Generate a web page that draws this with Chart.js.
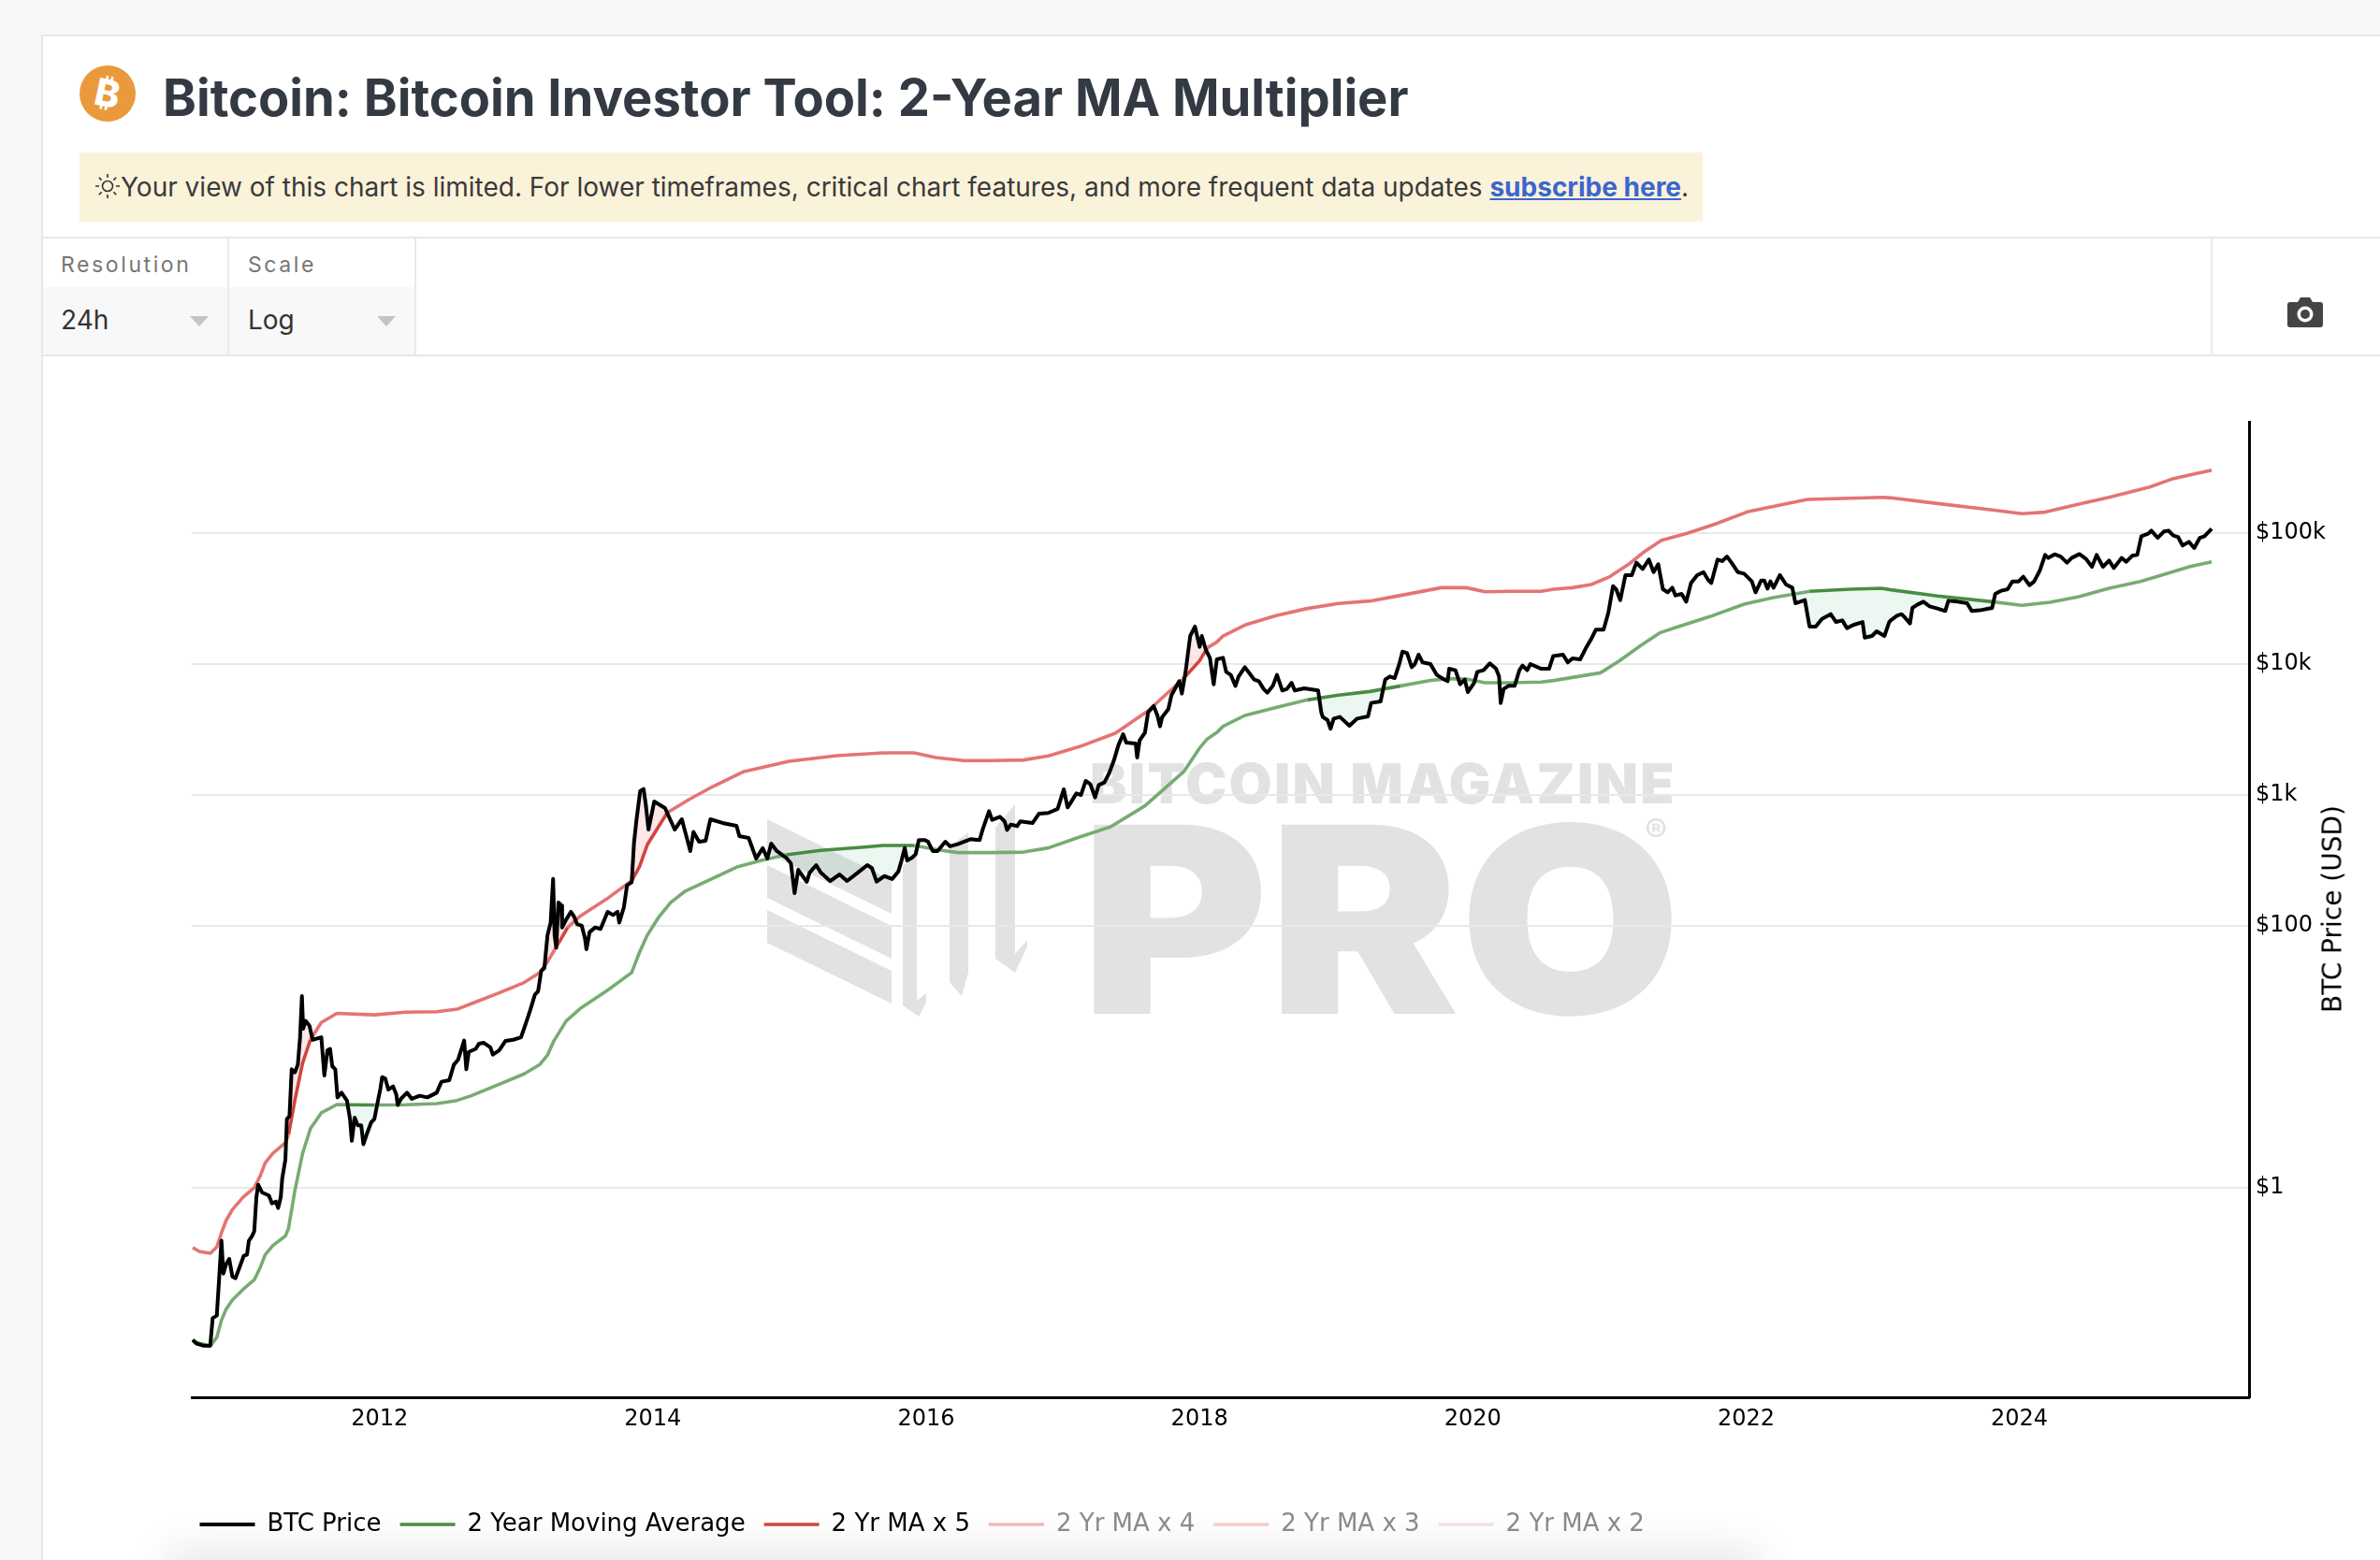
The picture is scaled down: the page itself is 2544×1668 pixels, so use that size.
<!DOCTYPE html>
<html>
<head>
<meta charset="utf-8">
<title>Bitcoin Investor Tool: 2-Year MA Multiplier</title>
<script src="https://cdn.jsdelivr.net/npm/chart.js@4"></script>
<style>
  html, body { margin: 0; padding: 0; width: 2544px; height: 1668px; overflow: hidden; background: #f7f8fa; font-family: Inter, sans-serif; }
  #card { position: absolute; left: 44px; top: 37px; width: 2600px; height: 1700px; background: #fff; border: 2px solid #e6e7e9; box-sizing: border-box; }
  .abs { position: absolute; white-space: nowrap; }
  #logo { left: 85px; top: 70px; width: 60px; height: 60px; }
  #title { left: 174px; top: 70px; font-size: 54.3px; line-height: 68px; font-weight: 700; color: #343a43; }
  #alert { left: 85px; top: 163px; width: 1735px; height: 74px; background: #fbf2da; }
  #alertText { left: 129px; top: 183px; font-size: 28px; line-height: 34px; color: #3a3a3a; }
  #alertText a { color: #3a66cf; font-weight: 700; text-decoration: underline; }
  #sun { left: 100px; top: 184px; width: 30px; height: 30px; }
  .hr { position: absolute; left: 44px; width: 2500px; height: 2px; background: #e6e7e9; }
  .vr { position: absolute; top: 253px; width: 2px; height: 127px; background: #e9eaec; }
  .ctlBg { position: absolute; top: 307px; height: 72px; background: #f8f8f8; }
  .ctlLabel { font-size: 23px; letter-spacing: 2.6px; color: #777; top: 269px; line-height: 28px; }
  .ctlValue { font-size: 28px; color: #333; top: 324px; line-height: 36px; }
  .arrow { position: absolute; top: 338px; width: 0; height: 0; border-left: 10px solid transparent; border-right: 10px solid transparent; border-top: 11px solid #c4c4c4; }
  #cam { left: 2445px; top: 317px; width: 38px; height: 36px; }
  #wmTop { left: 1165px; top: 803px; font-size: 59px; line-height: 70px; font-weight: 900; color: #e2e2e2; letter-spacing: 2.4px; }
  #wmPro { left: 1155px; top: 823px; font-size: 278px; line-height: 320px; font-weight: 900; color: #e2e2e2; transform: scaleX(1.1); transform-origin: left top; }
  #wmReg { left: 1758px; top: 866px; font-size: 36px; color: #e2e2e2; }
  #wmIcon { left: 815px; top: 850px; width: 300px; height: 250px; }
  #yTitle { left: 2493px; top: 972px; font-family: "DejaVu Sans"; font-size: 28px; color: #000; transform: translate(-50%, -50%) rotate(-90deg); }
  #fade { left: 190px; top: 1668px; width: 1680px; height: 60px; box-shadow: 0 0 46px 10px rgba(0,0,0,0.10); }
  #chart { position: absolute; left: 0; top: 0; }
</style>
</head>
<body>
<div id="card"></div>

<svg id="logo" class="abs" viewBox="0 0 60 60">
  <circle cx="30" cy="30" r="30" fill="#ea9a3c"/>
  <text x="30" y="44" text-anchor="middle" font-family="Inter" font-weight="800" font-size="40" fill="#fff" transform="rotate(12 30 30)">₿</text>
</svg>
<div id="title" class="abs">Bitcoin: Bitcoin Investor Tool: 2-Year MA Multiplier</div>
<div id="alert" class="abs"></div>
<svg id="sun" class="abs" viewBox="0 0 30 30" fill="none" stroke="#333" stroke-width="1.6">
  <circle cx="15" cy="15" r="5.5"/>
  <path d="M15 2v4M15 24v4M2 15h4M24 15h4M5.8 5.8l2.8 2.8M21.4 21.4l2.8 2.8M5.8 24.2l2.8-2.8M21.4 8.6l2.8-2.8"/>
</svg>
<div id="alertText" class="abs">Your view of this chart is limited. For lower timeframes, critical chart features, and more frequent data updates <a>subscribe here</a>.</div>

<div class="hr" style="top:253px"></div>
<div class="hr" style="top:379px"></div>
<div class="ctlBg" style="left:46px;width:197px"></div>
<div class="ctlBg" style="left:245px;width:198px"></div>
<div class="vr" style="left:243px"></div>
<div class="vr" style="left:443px"></div>
<div class="vr" style="left:2363px"></div>
<div class="abs ctlLabel" style="left:65px">Resolution</div>
<div class="abs ctlLabel" style="left:265px">Scale</div>
<div class="abs ctlValue" style="left:65px">24h</div>
<div class="abs ctlValue" style="left:265px">Log</div>
<div class="arrow" style="left:203px"></div>
<div class="arrow" style="left:403px"></div>
<svg id="cam" class="abs" viewBox="0 0 38 36">
  <path fill="#444" d="M3 6h8l3-5h10l3 5h8a3 3 0 0 1 3 3v21a3 3 0 0 1-3 3H3a3 3 0 0 1-3-3V9a3 3 0 0 1 3-3z"/>
  <circle cx="19" cy="19" r="8.5" fill="#fff"/><circle cx="19" cy="19" r="5" fill="#444"/>
</svg>

<!-- watermark sits under the transparent canvas -->
<svg id="wmIcon" class="abs" viewBox="815 850 300 250" fill="#e2e2e2">
  <polygon points="820,876 953,941 953,977 820,912"/>
  <polygon points="820,925 953,990 953,1025 820,960"/>
  <polygon points="820,973 953,1038 953,1073 820,1008"/>
  <polygon points="965,925 980,915 980,1070 990,1062 990,1072 982,1087 965,1075"/>
  <polygon points="1015,905 1035,890 1035,1040 1028,1065 1015,1050"/>
  <polygon points="1064,885 1085,860 1085,1020 1098,1005 1098,1012 1085,1040 1064,1025"/>
</svg>
<div id="wmTop" class="abs">BITCOIN MAGAZINE</div>
<div id="wmPro" class="abs">PRO</div>
<div id="wmReg" class="abs">®</div>
<div id="fade" class="abs"></div>

<canvas id="chart" width="2544" height="1668"></canvas>
<div id="yTitle" class="abs">BTC Price (USD)</div>

<script>
const xTickYears = [2012, 2014, 2016, 2018, 2020, 2022, 2024];
const yTickValues = [1, 100, 1000, 10000, 100000];
const yTickLabels = ["$1", "$100", "$1k", "$10k", "$100k"];

const priceYears = [
  2010.633, 2010.660, 2010.706, 2010.761, 2010.779, 2010.809, 2010.825, 2010.843, 2010.857, 2010.877, 2010.900, 2010.923, 2010.946, 2010.980,
  2011.007, 2011.030, 2011.044, 2011.067, 2011.083, 2011.099, 2011.112, 2011.140, 2011.190, 2011.213, 2011.242, 2011.258, 2011.277, 2011.288,
  2011.311, 2011.322, 2011.341, 2011.357, 2011.380, 2011.402, 2011.418, 2011.432, 2011.441, 2011.459, 2011.487, 2011.510, 2011.574, 2011.596,
  2011.619, 2011.638, 2011.654, 2011.676, 2011.692, 2011.722, 2011.761, 2011.784, 2011.797, 2011.818, 2011.841, 2011.866, 2011.882, 2011.905,
  2011.939, 2011.962, 2011.984, 2012.007, 2012.019, 2012.042, 2012.064, 2012.099, 2012.122, 2012.133, 2012.156, 2012.201, 2012.236, 2012.293,
  2012.350, 2012.418, 2012.453, 2012.510, 2012.544, 2012.574, 2012.619, 2012.635, 2012.653, 2012.704, 2012.727, 2012.761, 2012.811, 2012.829,
  2012.875, 2012.921, 2012.978, 2013.035, 2013.069, 2013.103, 2013.137, 2013.160, 2013.183, 2013.206, 2013.229, 2013.252, 2013.270, 2013.281,
  2013.293, 2013.309, 2013.332, 2013.336, 2013.366, 2013.400, 2013.423, 2013.446, 2013.480, 2013.503, 2013.514, 2013.537, 2013.578, 2013.617,
  2013.669, 2013.708, 2013.742, 2013.754, 2013.788, 2013.811, 2013.845, 2013.862, 2013.879, 2013.907, 2013.932, 2013.948, 2013.968, 2014.010,
  2014.089, 2014.160, 2014.212, 2014.274, 2014.297, 2014.338, 2014.386, 2014.421, 2014.510, 2014.612, 2014.633, 2014.701, 2014.756, 2014.804,
  2014.838, 2014.866, 2014.907, 2014.975, 2015.010, 2015.037, 2015.064, 2015.126, 2015.147, 2015.195, 2015.229, 2015.297, 2015.366, 2015.421,
  2015.510, 2015.569, 2015.603, 2015.637, 2015.694, 2015.752, 2015.797, 2015.820, 2015.843, 2015.861, 2015.900, 2015.923, 2015.946, 2015.991,
  2016.014, 2016.048, 2016.083, 2016.140, 2016.174, 2016.231, 2016.323, 2016.391, 2016.414, 2016.460, 2016.482, 2016.540, 2016.574, 2016.592,
  2016.619, 2016.665, 2016.688, 2016.779, 2016.825, 2016.893, 2016.962, 2017.007, 2017.035, 2017.057, 2017.099, 2017.133, 2017.167, 2017.201,
  2017.236, 2017.263, 2017.304, 2017.339, 2017.373, 2017.407, 2017.441, 2017.464, 2017.533, 2017.544, 2017.562, 2017.601, 2017.624, 2017.665,
  2017.692, 2017.711, 2017.727, 2017.772, 2017.795, 2017.852, 2017.871, 2017.898, 2017.932, 2017.967, 2018.001, 2018.017, 2018.047, 2018.076,
  2018.104, 2018.127, 2018.172, 2018.195, 2018.229, 2018.263, 2018.286, 2018.332, 2018.366, 2018.400, 2018.434, 2018.469, 2018.496, 2018.537,
  2018.567, 2018.606, 2018.640, 2018.674, 2018.697, 2018.766, 2018.868, 2018.891, 2018.902, 2018.937, 2018.959, 2018.982, 2019.028, 2019.097,
  2019.154, 2019.233, 2019.256, 2019.325, 2019.359, 2019.393, 2019.428, 2019.462, 2019.485, 2019.519, 2019.553, 2019.576, 2019.603, 2019.633,
  2019.690, 2019.736, 2019.793, 2019.816, 2019.827, 2019.873, 2019.907, 2019.941, 2019.964, 2020.010, 2020.033, 2020.078, 2020.124, 2020.170,
  2020.192, 2020.204, 2020.226, 2020.261, 2020.306, 2020.341, 2020.364, 2020.398, 2020.421, 2020.501, 2020.558, 2020.588, 2020.660, 2020.695,
  2020.729, 2020.786, 2020.832, 2020.866, 2020.900, 2020.957, 2020.992, 2021.026, 2021.049, 2021.079, 2021.117, 2021.163, 2021.197, 2021.243,
  2021.288, 2021.323, 2021.357, 2021.391, 2021.426, 2021.460, 2021.483, 2021.528, 2021.562, 2021.597, 2021.642, 2021.688, 2021.722, 2021.745,
  2021.791, 2021.825, 2021.859, 2021.893, 2021.939, 2021.985, 2022.042, 2022.069, 2022.110, 2022.133, 2022.156, 2022.178, 2022.201, 2022.247,
  2022.292, 2022.338, 2022.361, 2022.430, 2022.464, 2022.509, 2022.555, 2022.619, 2022.658, 2022.704, 2022.738, 2022.784, 2022.852, 2022.868,
  2022.921, 2022.955, 2023.012, 2023.047, 2023.058, 2023.103, 2023.137, 2023.160, 2023.199, 2023.217, 2023.252, 2023.297, 2023.343, 2023.400,
  2023.457, 2023.480, 2023.548, 2023.617, 2023.651, 2023.709, 2023.800, 2023.823, 2023.868, 2023.914, 2023.948, 2023.994, 2024.028, 2024.074,
  2024.108, 2024.149, 2024.188, 2024.211, 2024.257, 2024.302, 2024.348, 2024.382, 2024.439, 2024.485, 2024.531, 2024.565, 2024.611, 2024.656,
  2024.691, 2024.748, 2024.782, 2024.828, 2024.862, 2024.892, 2024.942, 2024.965, 2025.011, 2025.057, 2025.091, 2025.126, 2025.160, 2025.194,
  2025.240, 2025.279, 2025.320, 2025.354, 2025.407
];
const priceValues = [
  0.0689, 0.0645, 0.0624, 0.0621, 0.101, 0.1057, 0.193, 0.394, 0.221, 0.261, 0.286, 0.2096, 0.204, 0.254,
  0.303, 0.308, 0.394, 0.4276, 0.464, 0.848, 1.056, 0.921, 0.872, 0.760, 0.782, 0.700, 0.848, 1.18,
  1.64, 3.34, 3.53, 8.03, 7.60, 8.71, 13.9, 29.1, 16.4, 18.8, 17.3, 13.5, 14.1, 7.2,
  11.2, 11.5, 8.48, 8.03, 4.9, 5.32, 4.64, 3.34, 2.28, 3.43, 2.99, 2.99, 2.15, 2.54,
  3.16, 3.34, 4.39, 5.78, 7.0, 6.81, 5.62, 5.94, 5.18, 4.28, 4.77, 5.32, 4.77, 5.04,
  4.9, 5.32, 6.45, 6.63, 8.71, 9.47, 13.3, 8.03, 10.9, 11.5, 12.6, 12.8, 11.8, 10.4,
  11.2, 13.2, 13.5, 14.1, 17.8, 22.8, 29.9, 31.6, 45.2, 47.7, 84.9, 106, 228, 84.9,
  68.1, 151, 143, 97.3, 112, 128, 118, 103, 100, 80.3, 66.3, 89.6, 97.3, 94.7,
  128, 121, 128, 106, 139, 204, 215, 432, 631, 1069, 1111, 849, 544, 891,
  794, 544, 652, 373, 522, 439, 447, 652, 611, 581, 485, 469, 327, 392,
  327, 425, 373, 332, 301, 178, 268, 217, 255, 291, 255, 220, 247, 220,
  260, 291, 276, 218, 240, 228, 261, 316, 394, 316, 334, 353, 452, 452,
  439, 373, 373, 439, 405, 421, 459, 452, 547, 752, 645, 681, 628, 541,
  594, 578, 628, 611, 719, 728, 782, 1104, 803, 871, 1028, 1000, 1279, 1211,
  957, 1192, 1245, 1469, 1828, 2404, 2911, 2512, 2472, 1932, 2612, 2992, 4276, 4775,
  4046, 3342, 3936, 4519, 5781, 7396, 5943, 8710, 16370, 19320, 13520, 16370, 12800, 11160,
  7000, 10860, 11160, 8710, 8260, 6810, 8030, 9460, 8490, 7600, 7400, 6450, 6040, 6810,
  8260, 6280, 6450, 7190, 6280, 6520, 6280, 4280, 3940, 3730, 3200, 3830, 3940, 3380,
  3830, 3980, 5040, 5180, 7600, 8030, 7810, 10000, 12450, 12110, 9460, 10000, 11790, 10280,
  10000, 8260, 7600, 7400, 9200, 8960, 7000, 7600, 6110, 7190, 8710, 8960, 10110, 9200,
  8030, 5040, 6450, 6810, 6810, 8960, 9730, 8960, 10000, 9200, 9200, 11480, 11790, 10280,
  11040, 10860, 13520, 15490, 18280, 18280, 24700, 39360, 37240, 30760, 47750, 47750, 59430, 53210,
  62810, 50350, 57810, 37240, 35300, 38280, 33420, 34360, 29920, 41590, 47750, 50350, 43950, 41590,
  62810, 61090, 66220, 59430, 50350, 48980, 42760, 35300, 43450, 43450, 37670, 42760, 38280, 47750,
  40460, 38280, 29110, 30760, 19320, 19320, 22130, 24040, 20940, 21530, 18790, 19860, 20940, 15920,
  16370, 17780, 16370, 20940, 21530, 23390, 24040, 22750, 20420, 26850, 28340, 29920, 27560, 26550,
  25400, 30410, 29920, 29110, 25400, 25700, 26850, 34360, 36310, 37240, 42760, 42760, 46450, 40000,
  42760, 51760, 68080, 64570, 68870, 66220, 59430, 64570, 69180, 63830, 55340, 68080, 55340, 61660,
  54080, 64570, 60400, 67450, 68080, 94620, 98860, 104400, 92040, 102800, 104400, 95720, 93540, 80350,
  85700, 76910, 92040, 94620, 107900
];

const maYears = [
  2010.633, 2010.683, 2010.763, 2010.809, 2010.843, 2010.877, 2010.923, 2011.003, 2011.083, 2011.128, 2011.163, 2011.220, 2011.311, 2011.334,
  2011.380, 2011.437, 2011.494, 2011.574, 2011.688, 2011.779, 2011.962, 2012.190, 2012.418, 2012.567, 2012.670, 2012.875, 2013.058, 2013.172,
  2013.229, 2013.275, 2013.366, 2013.469, 2013.674, 2013.845, 2013.902, 2013.959, 2014.039, 2014.131, 2014.233, 2014.428, 2014.622, 2014.793,
  2014.976, 2015.227, 2015.524, 2015.683, 2015.912, 2016.071, 2016.231, 2016.482, 2016.711, 2016.894, 2017.122, 2017.350, 2017.601, 2017.886,
  2018.000, 2018.058, 2018.126, 2018.172, 2018.332, 2018.560, 2018.789, 2019.017, 2019.246, 2019.473, 2019.701, 2019.816, 2019.953, 2020.090,
  2020.272, 2020.501, 2020.592, 2020.935, 2021.071, 2021.231, 2021.368, 2021.505, 2021.734, 2021.985, 2022.190, 2022.464, 2022.761, 2022.989,
  2023.058, 2023.400, 2023.800, 2024.017, 2024.222, 2024.428, 2024.656, 2024.885, 2025.113, 2025.249, 2025.407
];
const maValues = [
  0.0681, 0.0645, 0.0621, 0.0720, 0.0973, 0.118, 0.139, 0.168, 0.198, 0.247, 0.308, 0.363, 0.428, 0.490,
  0.947, 1.83, 2.83, 3.73, 4.32, 4.30, 4.28, 4.30, 4.39, 4.64, 5.04, 6.17, 7.40, 8.72,
  10.3, 13.2, 18.8, 23.4, 32.5, 44.0, 62.8, 84.9, 115, 151, 183, 228, 283, 316,
  349, 377, 398, 411, 411, 383, 363, 363, 366, 394, 477, 571, 826, 1510,
  2277, 2685, 2992, 3342, 4046, 4645, 5321, 5781, 6166, 6808, 7516, 7727, 7691, 7194,
  7194, 7278, 7482, 8570, 10560, 13900, 17300, 19320, 23010, 28640, 31980, 35890, 37240, 37930,
  36900, 33040, 29920, 28050, 29580, 32510, 37930, 42760, 50350, 55590, 60400
];

const ma5Years = [
  2010.633, 2010.683, 2010.763, 2010.809, 2010.843, 2010.877, 2010.923, 2011.003, 2011.083, 2011.128, 2011.163, 2011.220, 2011.311, 2011.334,
  2011.380, 2011.437, 2011.494, 2011.574, 2011.688, 2011.962, 2012.190, 2012.418, 2012.567, 2012.670, 2012.875, 2013.058, 2013.172, 2013.229,
  2013.297, 2013.377, 2013.469, 2013.674, 2013.845, 2013.902, 2013.959, 2014.105, 2014.263, 2014.438, 2014.667, 2014.996, 2015.345, 2015.683,
  2015.912, 2016.071, 2016.277, 2016.482, 2016.711, 2016.894, 2017.122, 2017.384, 2017.624, 2017.886, 2018.000, 2018.058, 2018.126, 2018.172,
  2018.332, 2018.560, 2018.789, 2019.017, 2019.246, 2019.473, 2019.770, 2019.953, 2020.090, 2020.272, 2020.501, 2020.592, 2020.729, 2020.866,
  2021.003, 2021.140, 2021.254, 2021.380, 2021.574, 2021.780, 2022.008, 2022.190, 2022.449, 2023.003, 2023.058, 2023.400, 2023.788, 2024.017,
  2024.188, 2024.428, 2024.656, 2024.953, 2025.113, 2025.249, 2025.407
];
const ma5Values = [
  0.349, 0.325, 0.316, 0.353, 0.452, 0.562, 0.681, 0.849, 1.0, 1.24, 1.55, 1.83, 2.21, 2.54,
  4.64, 8.96, 13.5, 18.3, 21.5, 20.9, 21.9, 22.1, 23.1, 25.4, 30.8, 36.9, 44.0, 53.2,
  70.0, 97.3, 119, 164, 221, 283, 416, 731, 921, 1159, 1510, 1807, 1995, 2096,
  2096, 1932, 1828, 1828, 1849, 1986, 2339, 2958, 4395, 7816, 10570, 13300, 14690, 16370,
  19860, 23390, 26550, 28970, 30270, 33420, 38280, 38280, 35650, 35890, 35890, 37240, 38280, 40460,
  46450, 57810, 71940, 88100, 100000, 117800, 145200, 159200, 180700, 187800, 185800, 168300, 151000, 140600,
  144500, 165600, 187900, 225000, 258200, 278600, 302700
];

// stretches where the price sits outside the band, the line is drawn stronger there
const maStrongRanges = [[2010.63, 2010.77], [2011.78, 2012.0], [2014.98, 2015.9], [2018.87, 2019.36], [2022.44, 2023.82]];
const ma5StrongRanges = [[2011.33, 2011.5], [2013.27, 2013.34], [2013.87, 2014.13], [2017.93, 2018.07]];

function toPoints(years, values) {
  return years.map((y, i) => ({ x: y, y: values[i] }));
}

function strongColor(ranges, strong, light) {
  return ctx => {
    const mid = (ctx.p0.parsed.x + ctx.p1.parsed.x) / 2;
    return ranges.some(r => mid >= r[0] && mid <= r[1]) ? strong : light;
  };
}

const labelFont = { family: "DejaVu Sans", size: 26 };
const tickFont = { family: "DejaVu Sans", size: 24 };

const fixedLayout = {
  id: "fixedLayout",
  afterLayout(chart) {
    // legend starts a little left of the plot edge
    chart.legend.left -= 11.5;
  }
};

new Chart(document.getElementById("chart"), {
  type: "line",
  data: {
    datasets: [
      {
        label: "BTC Price",
        data: toPoints(priceYears, priceValues),
        borderColor: "#000",
        borderWidth: 4,
        fill: { target: 1, above: "rgba(0,0,0,0)", below: "rgba(30,170,90,0.09)" }
      },
      {
        label: "2 Year Moving Average",
        data: toPoints(maYears, maValues),
        borderColor: "#4a8c42",
        borderWidth: 3.6,
        segment: { borderColor: strongColor(maStrongRanges, "#4a8c42", "#78ac72") },
        fill: false
      },
      {
        label: "2 Yr MA x 5",
        data: toPoints(ma5Years, ma5Values),
        borderColor: "#d2443f",
        borderWidth: 3.6,
        segment: { borderColor: strongColor(ma5StrongRanges, "#d2443f", "#e47472") },
        fill: { target: 0, above: "rgba(0,0,0,0)", below: "rgba(225,60,60,0.12)" }
      },
      { label: "2 Yr MA x 4", data: [], borderColor: "#f0b9ba", borderWidth: 3.6, fill: false },
      { label: "2 Yr MA x 3", data: [], borderColor: "#f3cccd", borderWidth: 3.6, fill: false },
      { label: "2 Yr MA x 2", data: [], borderColor: "#f7dedf", borderWidth: 3.6, fill: false }
    ]
  },
  options: {
    responsive: false,
    animation: false,
    devicePixelRatio: 1,
    elements: { point: { radius: 0 }, line: { tension: 0, borderJoinStyle: "round" } },
    layout: { padding: { left: 205, top: 451, right: 0, bottom: 15 } },
    scales: {
      x: {
        type: "linear",
        min: 2010.626,
        max: 2025.68,
        grid: { display: false },
        border: { color: "#000", width: 3 },
        afterFit(scale) { scale.height = 103; },
        afterBuildTicks(scale) { scale.ticks = xTickYears.map(v => ({ value: v })); },
        ticks: {
          color: "#000",
          font: tickFont,
          padding: 1,
          maxRotation: 0,
          autoSkip: false,
          callback: v => String(v)
        }
      },
      y: {
        type: "logarithmic",
        position: "right",
        min: 0.0251,
        max: 708000,
        grid: { color: "#e8e8e8", lineWidth: 2, drawTicks: false },
        border: { color: "#000", width: 3 },
        afterFit(scale) { scale.width = 140; },
        afterBuildTicks(scale) { scale.ticks = yTickValues.map(v => ({ value: v })); },
        ticks: {
          color: "#000",
          font: tickFont,
          padding: 7,
          crossAlign: "near",
          autoSkip: false,
          callback: v => yTickLabels[yTickValues.indexOf(v)]
        }
      }
    },
    plugins: {
      tooltip: { enabled: false },
      title: { display: false },
      legend: {
        position: "bottom",
        align: "start",
        labels: {
          font: labelFont,
          color: "#000",
          usePointStyle: true,
          pointStyle: "line",
          pointStyleWidth: 59,
          padding: 20,
          generateLabels(chart) {
            return Chart.defaults.plugins.legend.labels.generateLabels(chart).map((item, i) => {
              item.fontColor = i < 3 ? "#000" : "#8a8a8a";
              item.pointStyle = "line";
              return item;
            });
          }
        }
      }
    }
  },
  plugins: [fixedLayout]
});
</script>
</body>
</html>
